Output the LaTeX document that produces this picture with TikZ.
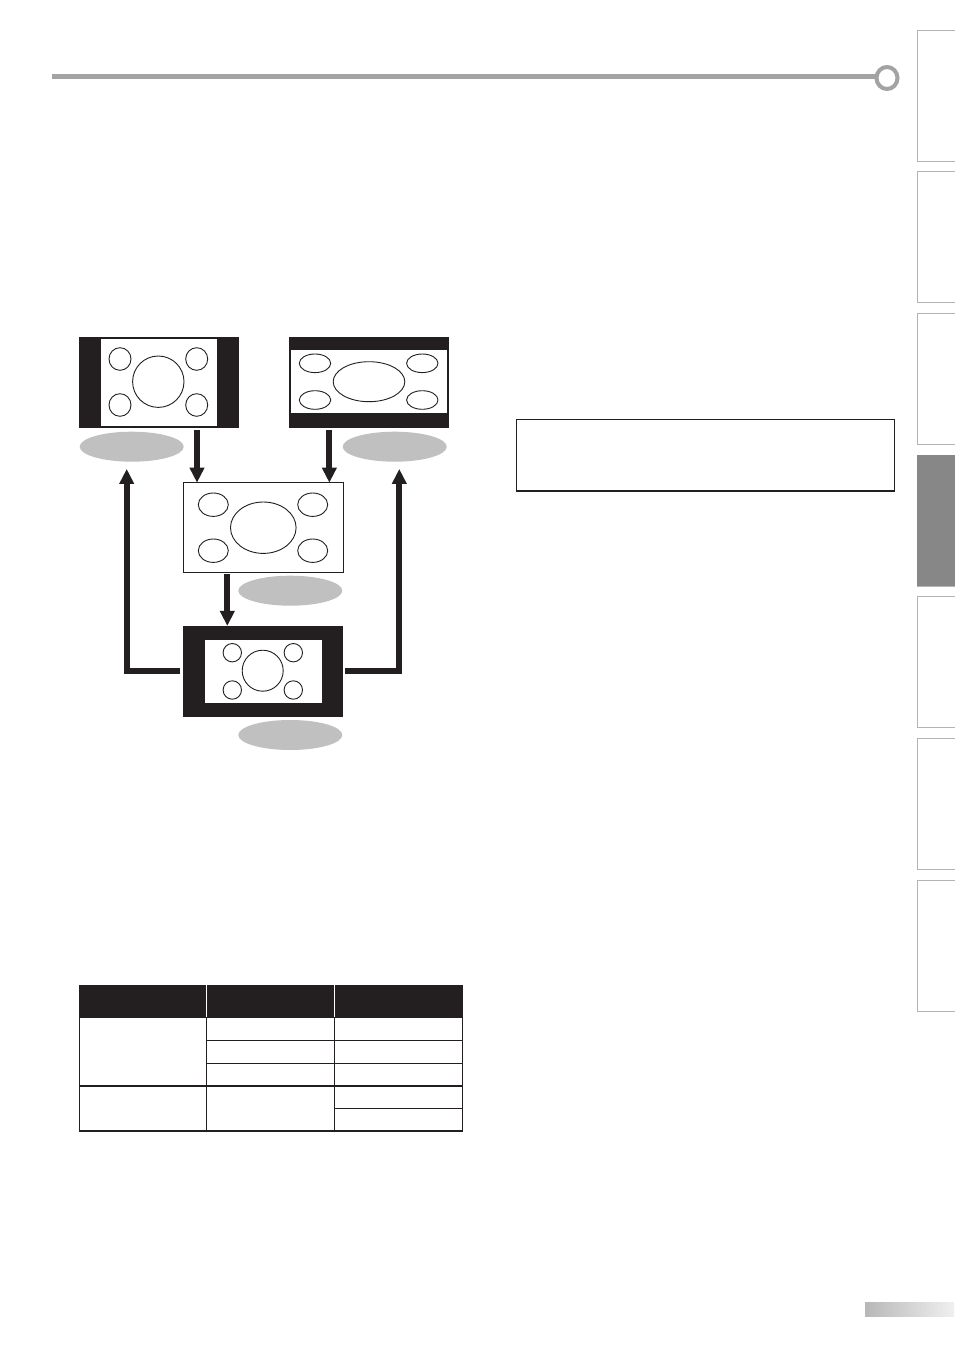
\documentclass[tikz,border=0pt]{standalone}
\usepackage{tikz}
\usepackage{xcolor}
\usetikzlibrary{arrows.meta, shapes.geometric, positioning}
\definecolor{rulegray}{HTML}{A3A3A3}
\definecolor{tabgray}{HTML}{878787}
\definecolor{tabline}{HTML}{B4B4B4}
\definecolor{tagfill}{HTML}{C0C0C0}
\definecolor{ink}{HTML}{231F20}

\begin{document}
\begin{tikzpicture}[x=1pt, y=-1pt,
  screen/.style={rectangle, inner sep=0pt, outer sep=0pt},
  tag/.style={ellipse, fill=tagfill, minimum width=104pt, minimum height=30pt, inner sep=0pt},
  bigarrow/.style={-{Triangle[width=14pt,length=15pt]}, line width=6pt, draw=ink},
  blob/.style={draw=ink, line width=0.9pt}]
  \useasboundingbox (0,0) rectangle (954,1348);
  \fill[white] (0,0) rectangle (954,1348);
  % Header rule
  \draw[rulegray, line width=5pt] (52,77) -- (876,77);
  \draw[rulegray, line width=4pt, fill=white] (887,78) ellipse (10.5 and 11);
  % Side tabs
  \foreach \i in {0,...,6} {
    \draw[tabline, line width=0.8pt] (955,30+141.7*\i) -| (917.5,161+141.7*\i) -- (955,161+141.7*\i);
  }
  \fill[tabgray] (917,455.1) rectangle (955,586.1);
  % Top left screen (pillar box)
  \node[screen, fill=ink, minimum width=160pt, minimum height=91pt] (tvA) at (159,382.2) {};
  \node[screen, fill=white, minimum width=115.7pt, minimum height=87pt] (inA) at (158.8,382.5) {};
  \draw[blob] (158.3,381.7) circle (25.7);
  \foreach \px/\py in {120/359, 196.7/359, 120/405, 196.7/405}
    \draw[blob] (\px,\py) ellipse (11 and 11.3);
  % Top right screen (letter box)
  \node[screen, fill=ink, minimum width=160.3pt, minimum height=91pt] (tvB) at (369.2,382.2) {};
  \node[screen, fill=white, minimum width=155.7pt, minimum height=62.7pt] (inB) at (368.8,381.3) {};
  \draw[blob] (369,381.7) ellipse (35.8 and 20);
  \foreach \px/\py in {315/363.3, 422.3/363.3, 315/400, 422.3/400}
    \draw[blob] (\px,\py) ellipse (15.7 and 9.3);
  % Middle screen (full)
  \node[screen, fill=white, draw=ink, line width=1.5pt, minimum width=160pt, minimum height=89.6pt] (tvC) at (263.3,527.5) {};
  \draw[blob] (263.3,527.7) ellipse (32.8 and 25.7);
  \foreach \px/\py in {213.3/504.7, 312.7/504.7, 213.3/550.7, 312.7/550.7}
    \draw[blob] (\px,\py) ellipse (15 and 11.7);
  % Bottom screen (window box)
  \node[screen, fill=ink, minimum width=159.4pt, minimum height=90.7pt] (tvD) at (263,671.3) {};
  \node[screen, fill=white, minimum width=116.7pt, minimum height=62.7pt] (inD) at (263.3,671.3) {};
  \draw[blob] (262.7,670.7) circle (20.5);
  \foreach \px/\py in {232.3/652.7, 293.3/652.7, 232.3/690, 293.3/690}
    \draw[blob] (\px,\py) circle (9.2);
  % Mode tags
  \node[tag] (lA) at (131.7,446.7) {};
  \node[tag] (lB) at (394.7,446.7) {};
  \node[tag] (lC) at (290.3,590.7) {};
  \node[tag] (lD) at (290.3,735) {};
  % Arrows
  \draw[bigarrow] ([xshift=-42pt,yshift=-2pt]tvA.south east) -- ([xshift=-42pt]tvA.south east |- tvC.north);
  \draw[bigarrow] ([xshift=40.3pt,yshift=-2pt]tvB.south west) -- ([xshift=40.3pt]tvB.south west |- tvC.north);
  \draw[bigarrow] ([xshift=44pt,yshift=-2pt]tvC.south west) -- ([xshift=44pt]tvC.south west |- tvD.north);
  \draw[bigarrow] ([xshift=-3pt]tvD.west) -| ([xshift=-5pt,yshift=-7pt]lA.south);
  \draw[bigarrow] ([xshift=2pt]tvD.east) -| ([xshift=4.6pt,yshift=-7pt]lB.south);
  % Note box
  \draw[ink, line width=1.2pt] (516.7,419.3) rectangle (894.3,491);
  % Table
  \fill[ink] (79.3,985) rectangle (462.7,1017.7);
  \draw[white, line width=0.8pt] (206.7,985) -- (206.7,1017.7) (334.3,985) -- (334.3,1017.7);
  \draw[ink, line width=1.3pt] (79.3,1017.7) rectangle (462.7,1131);
  \draw[ink, line width=1.3pt] (206.7,1017.7) -- (206.7,1131) (334.3,1017.7) -- (334.3,1131);
  \draw[ink, line width=1.3pt] (206.7,1040.3) -- (462.7,1040.3) (206.7,1063.3) -- (462.7,1063.3);
  \draw[ink, line width=1.3pt] (79.3,1086) -- (462.7,1086) (334.3,1108.3) -- (462.7,1108.3);
  % Page number bar
  \shade[left color=black!28, right color=black!6] (865,1302.7) rectangle (954,1316.7);
\end{tikzpicture}
\end{document}
